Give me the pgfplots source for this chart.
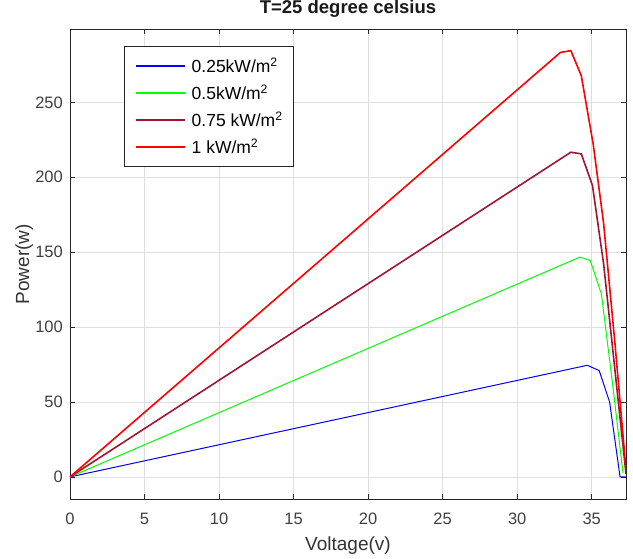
\documentclass[border=0pt]{standalone}
\usepackage{fontspec}
\setmainfont{Liberation Sans}
\usepackage{pgfplots}
\pgfplotsset{compat=1.18}
\definecolor{maroon}{rgb}{0.635,0.078,0.184}
\definecolor{axgray}{rgb}{0.15,0.15,0.15}
\newcommand{\lstrut}{\rule[-7bp]{0pt}{27bp}}
\begin{document}
\begin{tikzpicture}
\begin{axis}[
 scale only axis, width=556bp, height=470bp,
 xmin=0, xmax=37.3, ymin=-15, ymax=298.7,
 xtick={0,5,...,35}, ytick={0,50,...,250},
 tick align=inside, major tick length=5bp,
 grid=major, major grid style={draw=black!13, line width=0.5bp},
 axis line style={draw=axgray, line width=0.6bp},
 tick style={draw=axgray, line width=0.6bp},
 /pgf/number format/assume math mode=true,
 ticklabel style={font=\fontsize{16.5bp}{18bp}\selectfont, text=black!75},
 xticklabel style={anchor=base, yshift=-25bp},
 yticklabel style={anchor=east, inner sep=0pt, xshift=-7bp},
 title={T=25 degree celsius},
 title style={at={(axis description cs:0.5,1)}, anchor=base, yshift=10bp, inner sep=0pt, font=\bfseries\fontsize{18.5bp}{22bp}\selectfont, text=black!90},
 xlabel={Voltage(v)},
 xlabel style={at={(axis description cs:0.5,-0.1085)}, anchor=base, inner sep=0pt, font=\fontsize{19bp}{22bp}\selectfont, text=black!80},
 ylabel={Power(w)},
 ylabel style={at={(axis description cs:-0.0737,0.5)}, anchor=base, inner sep=0pt, font=\fontsize{19bp}{22bp}\selectfont, text=black!80},
 legend cell align=left,
 legend image code/.code={\draw[#1, line width=1.5bp] (0bp,0bp) -- (49bp,0bp);},
 legend style={at={(axis description cs:0.097,0.964)}, anchor=north west,
   draw=axgray, line width=0.5bp, fill=white, inner xsep=11bp, inner ysep=6bp,
   column sep=6bp, row sep=0bp, nodes={inner sep=0pt, text depth=},
   font=\fontsize{17.5bp}{20bp}\selectfont, cells={anchor=west}},
]
\addplot[draw=blue, line width=1bp] coordinates {(0,0) (34.7,74.5) (35.5,71) (36.2,50) (36.9,0) (37.3,0)};
\addlegendentry{\lstrut 0.25kW/m\textsuperscript{2}}
\addplot[draw=green, line width=1bp] coordinates {(0,0) (34.2,146.7) (34.9,144.5) (35.65,122) (36.4,62) (37.1,2.5)};
\addlegendentry{\lstrut 0.5kW/m\textsuperscript{2}}
\addplot[draw=maroon, line width=1.6bp] coordinates {(0,0) (33.6,216.7) (34.3,215.6) (35.05,194.5) (35.8,142) (36.55,72) (37.3,2)};
\addlegendentry{\lstrut 0.75 kW/m\textsuperscript{2}}
\addplot[draw=red, line width=1.6bp] coordinates {(0,0) (32.9,283.3) (33.6,284.5) (34.3,267.8) (35.1,222) (35.8,169) (36.55,90) (37.3,5)};
\addlegendentry{\lstrut 1 kW/m\textsuperscript{2}}
\coordinate (sw) at (rel axis cs:0,0);
\coordinate (ne) at (rel axis cs:1,1);
\end{axis}
\path ([shift={(-70bp,-59bp)}]sw) rectangle ([shift={(7bp,28bp)}]ne);
\end{tikzpicture}
\end{document}
